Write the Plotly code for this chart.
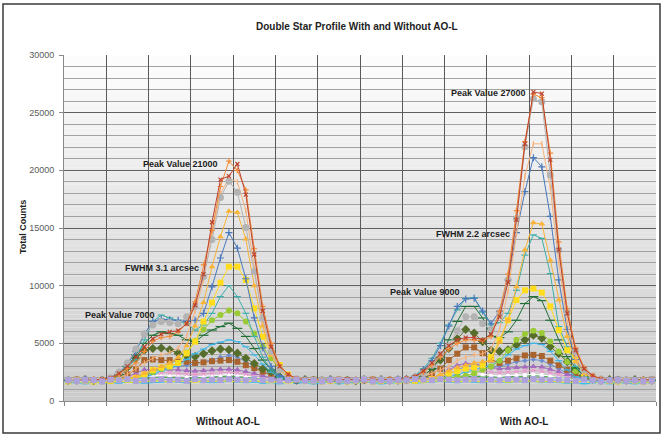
import plotly.graph_objects as go

categories = list(range(1, 71))

red_row = [1800, 1750, 1850, 1800, 1900, 2000, 2400, 3000, 3800, 4700,
           5400, 5800, 6000, 6100, 6700, 8300, 11000, 15500, 19200, 19500,
           20550, 17900, 12700, 7800, 4700, 3000, 2300, 1950, 1850, 1800,
           1750, 1850, 1800, 1900, 1800, 1750, 1850, 1800, 1900, 1850,
           1950, 2100, 2600, 3300, 4100, 4800, 5300, 5500, 5500, 5300,
           5800, 7300, 10300, 15700, 22300, 26800, 26650, 20900, 13100, 7600,
           4400, 2800, 2200, 1900, 1850, 1800, 1750, 1850, 1800, 1850]
orange_row = [1750, 1850, 1800, 1900, 1800, 1950, 2300, 2800, 3300, 4300,
              5200, 5500, 5600, 6000, 6700, 8600, 11800, 14800, 18600, 20800,
              20000, 18300, 13200, 8200, 5000, 3100, 2300, 1950, 1800, 1850,
              1800, 1750, 1900, 1800, 1850, 1800, 1900, 1750, 1850, 1800,
              1900, 2100, 2500, 3100, 3800, 4500, 5000, 5300, 5300, 5200,
              5600, 7800, 11000, 16500, 22500, 26600, 26300, 21500, 13800, 8000,
              4600, 2900, 2200, 1950, 1800, 1850, 1800, 1750, 1850, 1800]
gray_row = [1850, 1800, 1750, 1850, 1800, 2000, 2500, 3300, 4500, 5800,
            6600, 6900, 6800, 6700, 7300, 8200, 10800, 14000, 17650, 19050,
            18100, 15050, 11200, 7200, 4300, 2800, 2100, 1900, 1800, 1750,
            1850, 1800, 1850, 1750, 1800, 1900, 1800, 1850, 1750, 1800,
            1850, 2000, 2400, 3100, 4000, 4800, 6100, 7300, 7300, 6700,
            6200, 7500, 10500, 15800, 22050, 26200, 25950, 19600, 13100, 7700,
            4300, 2700, 2100, 1900, 1800, 1750, 1850, 1800, 1800, 1850]
peach_row = [1800, 1850, 1750, 1800, 1850, 1900, 2000, 2300, 2800, 3300,
             3700, 4000, 4200, 4600, 5600, 7800, 10500, 14500, 18000, 19300,
             19000, 16500, 11500, 7000, 4200, 2700, 2100, 1900, 1800, 1850,
             1750, 1800, 1850, 1800, 1900, 1800, 1850, 1800, 1750, 1850,
             1800, 1900, 2100, 2400, 2700, 3000, 3500, 3800, 4000, 4100,
             4500, 6200, 9500, 14500, 19500, 22300, 22300, 18500, 12000, 6800,
             3800, 2500, 2000, 1850, 1800, 1850, 1750, 1800, 1850, 1800]
amber_row = [1800, 1750, 1800, 1850, 1800, 1850, 1900, 2000, 2100, 2400,
             2700, 3000, 3300, 3800, 4800, 6500, 8550, 11650, 14250, 16450,
             16350, 14050, 10000, 6500, 4000, 2700, 2100, 1900, 1800, 1800,
             1850, 1800, 1750, 1850, 1800, 1800, 1850, 1800, 1900, 1800,
             1850, 1850, 1900, 2000, 2300, 2600, 2900, 3100, 3300, 3400,
             3500, 5100, 7000, 9900, 13100, 15450, 15350, 12200, 8750, 5600,
             3400, 2400, 2000, 1850, 1800, 1800, 1850, 1800, 1750, 1800]
blue_row = [1750, 1800, 1850, 1800, 1850, 2000, 2500, 3200, 4300, 5800,
            6900, 7100, 7050, 7000, 6900, 7000, 7600, 9900, 12400, 14600,
            13250, 10600, 7200, 4600, 3000, 2200, 1900, 1800, 1850, 1800,
            1800, 1850, 1800, 1750, 1850, 1800, 1800, 1850, 1800, 1900,
            1900, 2100, 2700, 3500, 4800, 6500, 8200, 8850, 8900, 7800,
            6700, 7800, 10500, 14600, 18150, 21100, 20300, 16000, 10500, 6200,
            3600, 2400, 1950, 1850, 1800, 1850, 1800, 1800, 1750, 1850]
yellow_row = [1700, 1800, 1750, 1700, 1800, 1750, 1850, 1900, 2000, 2300,
              2700, 2900, 3000, 3300, 4130, 5150, 6880, 8530, 10260, 11650,
              11650, 10490, 8030, 5580, 4130, 3120, 2300, 1900, 1750, 1800,
              1700, 1750, 1800, 1700, 1750, 1800, 1700, 1750, 1800, 1750,
              1800, 1750, 1800, 1900, 2100, 2400, 2600, 2800, 2900, 3100,
              3800, 5300, 7000, 8750, 9600, 9750, 9400, 8200, 6150, 4400,
              3600, 2400, 2000, 1800, 1750, 1700, 1800, 1750, 1700, 1750]
teal_row = [1800, 1850, 1800, 1750, 1850, 2000, 2500, 3000, 3600, 5300,
            6900, 7450, 7200, 7000, 6700, 6150, 6600, 7600, 9050, 10000,
            9050, 7600, 5600, 3800, 2700, 2100, 1900, 1800, 1850, 1800,
            1850, 1800, 1800, 1850, 1750, 1800, 1850, 1800, 1800, 1850,
            1900, 2200, 2800, 3700, 5000, 6600, 7900, 8900, 8950, 7700,
            6600, 6800, 7600, 9600, 12650, 14400, 14100, 11050, 6450, 4700,
            3000, 2200, 1900, 1800, 1850, 1800, 1800, 1850, 1800, 1750]
lime_row = [1800, 1750, 1800, 1800, 1850, 1800, 1850, 1900, 1950, 2200,
            2500, 2800, 3000, 3300, 4200, 5200, 6200, 7000, 7450, 7850,
            7600, 6900, 5850, 4700, 3700, 2700, 2000, 1850, 1800, 1750,
            1800, 1850, 1800, 1750, 1800, 1850, 1800, 1750, 1800, 1800,
            1850, 1800, 1850, 1900, 1950, 2000, 2100, 2200, 2400, 2700,
            3000, 3500, 4400, 5300, 5800, 6100, 5900, 5150, 4300, 3400,
            2600, 2000, 1850, 1800, 1800, 1750, 1800, 1850, 1800, 1800]
forest_row = [1800, 1850, 1800, 1800, 1850, 1900, 2300, 3000, 4000, 5000,
              5700, 6000, 5850, 5700, 5300, 5150, 5700, 6150, 6450, 6750,
              6300, 5600, 4550, 3550, 2700, 2100, 1900, 1800, 1800, 1850,
              1800, 1750, 1850, 1800, 1800, 1850, 1800, 1800, 1850, 1800,
              1850, 1900, 2200, 2800, 3800, 5300, 6900, 8200, 8200, 7200,
              5600, 5500, 6000, 7000, 8450, 9050, 8700, 7000, 5300, 3850,
              2850, 2200, 1900, 1800, 1850, 1800, 1800, 1850, 1800, 1800]
sky_row = [1700, 1750, 1800, 1700, 1750, 1800, 1800, 1850, 1900, 2000,
           2300, 2600, 2800, 3100, 3600, 4100, 4500, 4900, 5100, 5300,
           5150, 4700, 4000, 3200, 2500, 2000, 1800, 1700, 1600, 1750,
           1700, 1650, 1750, 1700, 1600, 1750, 1700, 1650, 1700, 1750,
           1700, 1750, 1800, 1850, 1950, 2100, 2300, 2500, 2700, 2900,
           3100, 3500, 4000, 4500, 4800, 5000, 4900, 4300, 3500, 2700,
           2100, 1800, 1700, 1650, 1600, 1700, 1750, 1650, 1700, 1700]
olive_row = [1800, 1800, 1850, 1750, 1800, 1850, 2100, 2900, 3700, 4400,
             4550, 4600, 4450, 4150, 3900, 3850, 4100, 4350, 4500, 4450,
             4150, 3700, 3250, 2800, 2550, 2100, 1900, 1800, 1850, 1800,
             1800, 1850, 1800, 1800, 1750, 1850, 1800, 1850, 1800, 1800,
             1850, 1900, 2100, 2800, 3550, 4550, 5400, 6200, 5900, 5150,
             4400, 4300, 4450, 4850, 5300, 5700, 5450, 4700, 4100, 3400,
             2700, 2300, 1900, 1800, 1850, 1800, 1800, 1850, 1800, 1800]
brown_row = [1800, 1850, 1800, 1800, 1800, 1800, 2000, 2300, 2750, 3550,
             3600, 3550, 3550, 3450, 3400, 3300, 3350, 3450, 3500, 3550,
             3400, 3100, 2850, 2550, 2250, 2000, 1850, 1800, 1800, 1850,
             1800, 1800, 1850, 1800, 1800, 1800, 1850, 1800, 1800, 1850,
             1800, 1850, 2000, 2300, 2800, 3550, 4100, 4650, 4650, 4150,
             3600, 3300, 3500, 3700, 3950, 4000, 3900, 3500, 3100, 2700,
             2300, 2000, 1850, 1800, 1800, 1850, 1800, 1800, 1800, 1850]
steel_row = [1800, 1800, 1750, 1800, 1850, 1800, 1850, 1950, 2100, 2300,
             2600, 2800, 2900, 3000, 3100, 3200, 3400, 3600, 3800, 3950,
             3800, 3400, 3000, 2600, 2200, 1950, 1850, 1800, 1750, 1800,
             1800, 1750, 1800, 1850, 1800, 1750, 1800, 1800, 1750, 1800,
             1800, 1850, 1900, 2000, 2100, 2300, 2700, 3000, 3100, 3000,
             2900, 3000, 3200, 3400, 3500, 3600, 3500, 3200, 2800, 2400,
             2100, 1900, 1800, 1800, 1750, 1800, 1800, 1750, 1800, 1800]
purple_row = [1800, 1850, 1800, 1800, 1850, 1800, 1900, 2100, 2400, 2700,
              2750, 2750, 2750, 2700, 2650, 2600, 2650, 2700, 2750, 2750,
              2700, 2550, 2400, 2200, 2000, 1850, 1800, 1850, 1800, 1800,
              1850, 1800, 1800, 1850, 1800, 1800, 1850, 1800, 1850, 1800,
              1800, 1850, 1900, 2000, 2300, 2700, 3100, 3250, 3250, 3100,
              2900, 2800, 2850, 2900, 2950, 3000, 2950, 2750, 2550, 2300,
              2100, 1900, 1850, 1800, 1800, 1850, 1800, 1800, 1850, 1800]
pink_row = [1750, 1800, 1800, 1750, 1800, 1800, 1850, 1950, 2100, 2300,
            2400, 2450, 2450, 2400, 2350, 2300, 2350, 2400, 2450, 2500,
            2450, 2350, 2200, 2050, 1900, 1800, 1750, 1800, 1750, 1800,
            1800, 1750, 1800, 1800, 1750, 1800, 1800, 1750, 1800, 1800,
            1750, 1800, 1850, 1950, 2100, 2400, 2600, 2750, 2750, 2600,
            2500, 2450, 2500, 2550, 2600, 2650, 2600, 2450, 2300, 2100,
            1950, 1850, 1800, 1750, 1800, 1800, 1750, 1800, 1800, 1750]
white_row = [1700, 1750, 1700, 1750, 1700, 1750, 1800, 1850, 1950, 2100,
             2200, 2250, 2250, 2200, 2150, 2100, 2150, 2200, 2250, 2300,
             2250, 2150, 2050, 1950, 1850, 1750, 1700, 1750, 1700, 1700,
             1750, 1700, 1700, 1750, 1700, 1700, 1750, 1700, 1700, 1750,
             1700, 1750, 1800, 1850, 1950, 2100, 2250, 2400, 2400, 2300,
             2200, 2150, 2200, 2250, 2250, 2300, 2250, 2150, 2050, 1900,
             1800, 1750, 1700, 1700, 1750, 1700, 1700, 1750, 1700, 1700]
green_row = [1850, 1800, 1900, 1850, 1800, 1900, 1850, 1900, 1950, 2000,
             2000, 2050, 2050, 2000, 1950, 2000, 2050, 2100, 2100, 2150,
             2100, 2050, 2000, 1950, 1900, 1850, 1900, 1850, 1800, 1850,
             1900, 1850, 1800, 1900, 1850, 1800, 1900, 1850, 1800, 1850,
             1900, 1850, 1900, 1950, 2000, 2050, 2100, 2150, 2150, 2100,
             2050, 2050, 2100, 2100, 2150, 2200, 2150, 2100, 2050, 2000,
             1950, 1900, 1850, 1900, 1800, 1850, 1900, 1850, 1800, 1850]
lemon_row = [1650, 1700, 1600, 1700, 1550, 1650, 1700, 1650, 1600, 1700,
             1750, 1700, 1650, 1750, 1700, 1650, 1750, 1700, 1750, 1700,
             1700, 1650, 1750, 1650, 1600, 1700, 1550, 1700, 1650, 1600,
             1700, 1600, 1650, 1700, 1600, 1650, 1700, 1650, 1600, 1700,
             1600, 1700, 1650, 1700, 1750, 1700, 1650, 1750, 1700, 1650,
             1750, 1700, 1650, 1700, 1750, 1700, 1650, 1700, 1650, 1600,
             1650, 1700, 1600, 1650, 1550, 1650, 1700, 1600, 1650, 1600]
cyan_row = [1550, 1600, 1500, 1650, 1550, 1600, 1550, 1650, 1600, 1550,
            1600, 1650, 1700, 1650, 1600, 1700, 1650, 1600, 1650, 1700,
            1650, 1600, 1650, 1550, 1600, 1500, 1650, 1550, 1600, 1500,
            1550, 1650, 1500, 1600, 1550, 1650, 1600, 1500, 1550, 1600,
            1650, 1550, 1600, 1650, 1700, 1650, 1600, 1700, 1650, 1600,
            1700, 1650, 1600, 1700, 1650, 1700, 1600, 1650, 1600, 1550,
            1600, 1500, 1550, 1650, 1500, 1600, 1550, 1500, 1600, 1550]
lavender_row = [1800, 1750, 1850, 1800, 1700, 1850, 1800, 1900, 1750, 1800,
                1850, 1900, 1800, 1850, 1750, 1900, 1800, 1850, 1800, 1900,
                1850, 1800, 1900, 1800, 1850, 1750, 1800, 1850, 1750, 1800,
                1700, 1850, 1800, 1750, 1800, 1850, 1700, 1800, 1750, 1850,
                1800, 1900, 1850, 1800, 1900, 1850, 1800, 1850, 1900, 1800,
                1850, 1800, 1900, 1850, 1800, 1900, 1850, 1800, 1850, 1800,
                1750, 1850, 1800, 1700, 1800, 1850, 1750, 1800, 1700, 1750]

y_ticks = [0, 5000, 10000, 15000, 20000, 25000, 30000]
group_labels = ["Without AO-L", "With AO-L"]
notes = ["Peak Value 21000", "FWHM 3.1 arcsec", "Peak Value 7000",
         "Peak Value 27000", "FWHM 2.2 arcsec", "Peak Value 9000"]
note_x = [9.55, 7.5, 2.8, 46.0, 44.3, 38.8]
note_y = [20550, 11530, 7450, 26700, 14480, 9450]

series = [
    (cyan_row, "#2FC0EE", "line-ew-open", 5),
    (lemon_row, "#EEE21A", "line-ew-open", 5),
    (green_row, "#3BAA4A", "circle", 3),
    (white_row, "#FFFFFF", "square", 4),
    (pink_row, "#E59BCB", "x-thin-open", 4),
    (steel_row, "#6E8ECF", "diamond", 4),
    (purple_row, "#A46CBE", "triangle-up", 6),
    (brown_row, "#A9642E", "square", 6),
    (olive_row, "#566D2B", "diamond", 7),
    (sky_row, "#3DB7E6", "line-ew-open", 5),
    (lime_row, "#9ACB36", "circle", 6),
    (forest_row, "#1F6E35", "line-ew-open", 7),
    (teal_row, "#3EAFA9", "line-ew-open", 5),
    (yellow_row, "#FFDD1C", "square", 6),
    (blue_row, "#4A78BC", "cross-thin-open", 5),
    (amber_row, "#F8B338", "triangle-up", 6),
    (peach_row, "#F7B27A", "line-ns-open", 4),
    (gray_row, "#B3B3B3", "circle", 7),
    (orange_row, "#F28A36", "cross-thin-open", 4),
    (red_row, "#BC432D", "x-thin-open", 4),
    (lavender_row, "#ADA3DA", "square", 6),
]

fig = go.Figure()
for vals, color, sym, size in series:
    mline = dict(width=1.2, color=color) if "open" in sym else dict(width=0)
    fig.add_trace(go.Scatter(
        x=categories, y=vals, mode="lines+markers",
        line=dict(color=color, width=1),
        marker=dict(symbol=sym, size=size, color=color, line=mline),
        showlegend=False, hoverinfo="skip"))

# gradient plot background
nb = 80
shapes = []
for i in range(nb):
    t = i / (nb - 1)
    c = int(round(0xCB + (0xFD - 0xCB) * t))
    shapes.append(dict(type="rect", xref="x domain", yref="y domain",
                       x0=0, x1=1, y0=i / nb, y1=(i + 1) / nb,
                       fillcolor=f"rgb({c},{c},{c})", line=dict(width=0),
                       layer="below"))
# outer chart frame
shapes.append(dict(type="rect", xref="paper", yref="paper",
                   x0=(3 - 64) / 592, x1=(660 - 64) / 592,
                   y0=(401 - 433) / 346, y1=(401 - 4) / 346,
                   line=dict(color="#3a3a3a", width=1.5), fillcolor="rgba(0,0,0,0)",
                   layer="above"))

FONT = "Liberation Sans, Arial"
annotations = []
for txt, xv, yv in zip(notes, note_x, note_y):
    annotations.append(dict(x=xv, y=yv, xref="x", yref="y", text=f"<b>{txt}</b>",
                            showarrow=False, xanchor="left", yanchor="middle",
                            font=dict(family=FONT, size=9, color="#1e1e1e")))
annotations.append(dict(x=(357 - 64) / 592, y=(401 - 27) / 346, xref="paper", yref="paper",
                        text="<b>Double Star Profile With and Without AO-L</b>", showarrow=False,
                        xanchor="center", yanchor="middle",
                        font=dict(family=FONT, size=10, color="#1e1e1e")))
annotations.append(dict(x=(23 - 64) / 592, y=(401 - 227) / 346, xref="paper", yref="paper",
                        text="<b>Total Counts</b>", showarrow=False, textangle=-90,
                        xanchor="center", yanchor="middle",
                        font=dict(family=FONT, size=9, color="#1e1e1e")))
for lab, px in zip(group_labels, [228, 524]):
    annotations.append(dict(x=(px - 64) / 592, y=(401 - 421) / 346, xref="paper", yref="paper",
                            text=f"<b>{lab}</b>", showarrow=False,
                            xanchor="center", yanchor="middle",
                            font=dict(family=FONT, size=10, color="#1e1e1e")))

fig.update_layout(
    width=664, height=436,
    margin=dict(l=64, r=8, t=55, b=35),
    paper_bgcolor="white", plot_bgcolor="rgba(0,0,0,0)",
    shapes=shapes, annotations=annotations,
    xaxis=dict(range=[0.5, 70.5], tickmode="array",
               tickvals=[0.5 + 5 * k for k in range(15)],
               showticklabels=False, ticks="outside", ticklen=4, tickcolor="#888",
               showgrid=True, gridcolor="#5a5a5a", gridwidth=1,
               showline=True, linecolor="#8a8a8a", linewidth=1, zeroline=False),
    yaxis=dict(range=[0, 30000], tickmode="array", tickvals=y_ticks,
               ticktext=[str(v) for v in y_ticks],
               ticks="outside", ticklen=4, tickcolor="#888", ticklabelstandoff=3,
               tickfont=dict(family=FONT, size=9, color="#5a5a5a"),
               showgrid=True, gridcolor="#5f5f5f", gridwidth=1,
               minor=dict(dtick=1000, showgrid=True, gridcolor="#a2a2a2", gridwidth=1),
               showline=True, linecolor="#8a8a8a", linewidth=1, zeroline=False),
)

fig.write_html("out.html", config={"displayModeBar": False},
               post_script="document.body.style.margin='0';")
